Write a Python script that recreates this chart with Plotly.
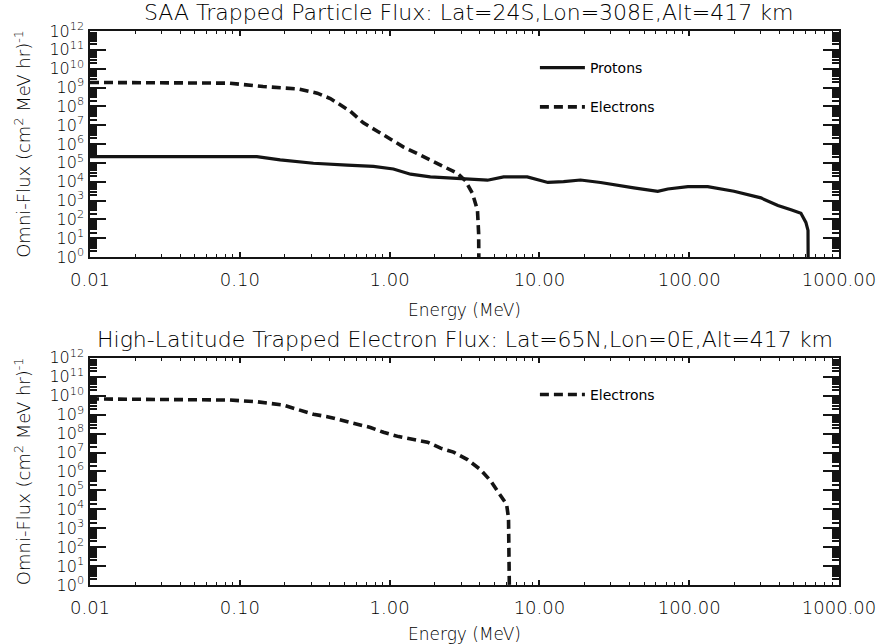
import plotly.graph_objects as go

# ---------------- data ----------------
saa_proton_energy = [0.01, 0.13, 0.186, 0.31, 0.52, 0.78, 1.06, 1.38, 1.87, 3.11, 4.5, 5.77,
                     8.3, 11.4, 14.5, 18.8, 25.6, 42.7, 61.7, 72, 98, 133, 199, 301, 391,
                     478, 557, 601, 621, 623]
saa_proton_flux = [2.14e5, 2.14e5, 1.45e5, 9.5e4, 7.6e4, 6.5e4, 4.7e4, 2.5e4, 1.8e4, 1.38e4,
                   1.2e4, 1.8e4, 1.8e4, 9.1e3, 1.0e4, 1.23e4, 9.1e3, 4.7e3, 3.1e3, 4.1e3,
                   5.5e3, 5.5e3, 3.1e3, 1.38e3, 550, 320, 210, 69, 26, 0.1]

saa_electron_energy = [0.01, 0.086, 0.143, 0.242, 0.329, 0.402, 0.547, 0.668, 0.828, 1.01,
                       1.24, 1.53, 1.87, 2.29, 2.84, 3.21, 3.58, 3.86, 3.93, 3.95]
saa_electron_flux = [1.86e9, 1.7e9, 1.12e9, 8.5e8, 5.0e8, 2.6e8, 5.5e7, 1.32e7, 4.8e6, 1.8e6,
                     6.9e5, 3.1e5, 1.38e5, 6.2e4, 2.75e4, 1.12e4, 2.3e3, 300, 18, 0.1]

hl_electron_energy = [0.01, 0.086, 0.13, 0.16, 0.195, 0.242, 0.31, 0.384, 0.483, 0.59, 0.745,
                      0.91, 1.15, 1.42, 1.79, 2.19, 2.67, 3.31, 4.05, 4.72, 5.33, 6.04, 6.22,
                      6.25, 6.32]
hl_electron_flux = [6.8e9, 5.9e9, 4.8e9, 3.9e9, 3.2e9, 1.9e9, 1.05e9, 7.8e8, 4.8e8, 3.2e8,
                    2.1e8, 1.17e8, 6.9e7, 5.0e7, 3.5e7, 1.7e7, 1.05e7, 4.2e6, 1.23e6, 3.2e5,
                    8.1e4, 1.8e4, 3.5e3, 91, 0.1]

x_tick_values = [0.01, 0.1, 1, 10, 100, 1000]
x_tick_labels = ["0.01", "0.10", "1.00", "10.00", "100.00", "1000.00"]
y_exponents = list(range(0, 13))

title_top = "SAA Trapped Particle Flux: Lat=24S,Lon=308E,Alt=417 km"
title_bottom = "High-Latitude Trapped Electron Flux: Lat=65N,Lon=0E,Alt=417 km"
x_title = "Energy (MeV)"
y_title = "Omni-Flux (cm<sup>2</sup> MeV hr)<sup>-1</sup>"

# ---------------- styling ----------------
INK = "#000000"
LINE = "#141414"
FONT = "DejaVu Sans"

y_tick_values = [10 ** e for e in y_exponents]
y_tick_labels = ["10<sup>%d</sup>" % e for e in y_exponents]
y_minor = [k * 10 ** e for e in y_exponents[:-1] for k in range(2, 10)]
x_minor = [k * 10 ** e for e in range(-2, 3) for k in range(2, 10)]

fig = go.Figure()

fig.add_trace(go.Scatter(x=saa_proton_energy, y=saa_proton_flux, mode="lines",
                         name="Protons", legendgroup="p", legend="legend",
                         line=dict(color=LINE, width=3.2), xaxis="x", yaxis="y"))
fig.add_trace(go.Scatter(x=saa_electron_energy, y=saa_electron_flux, mode="lines",
                         name="Electrons", legendgroup="e", legend="legend",
                         line=dict(color=LINE, width=3.6, dash="9px,5px"), xaxis="x", yaxis="y"))
fig.add_trace(go.Scatter(x=hl_electron_energy, y=hl_electron_flux, mode="lines",
                         name="Electrons", legend="legend2",
                         line=dict(color=LINE, width=3.6, dash="9px,5px"), xaxis="x2", yaxis="y2"))

def xaxis_cfg(anchor):
    return dict(
        type="log", range=[-2, 3], anchor=anchor,
        tickvals=x_tick_values, ticktext=x_tick_labels,
        ticks="inside", ticklen=5, tickwidth=1.5, tickcolor=LINE,
        minor=dict(tickvals=x_minor, ticks="inside", ticklen=3, tickwidth=1.2, tickcolor=LINE,
                   showgrid=False),
        showline=True, linecolor=LINE, linewidth=1.5, mirror="allticks",
        showgrid=False, zeroline=False,
        tickfont=dict(family=FONT, size=18, color=INK, weight=200),
        ticklabelstandoff=6,
        title=dict(text=x_title, font=dict(family=FONT, size=17, color=INK, weight=200),
                   standoff=15),
    )

def yaxis_cfg(domain, anchor):
    return dict(
        type="log", range=[0, 12], domain=domain, anchor=anchor,
        tickvals=y_tick_values, ticktext=y_tick_labels,
        ticks="inside", ticklen=16, tickwidth=1.8, tickcolor=LINE,
        minor=dict(tickvals=y_minor, ticks="inside", ticklen=7, tickwidth=1.5, tickcolor=LINE,
                   showgrid=False),
        showline=True, linecolor=LINE, linewidth=1.5, mirror="allticks",
        showgrid=False, zeroline=False,
        tickfont=dict(family=FONT, size=16, color=INK, weight=200),
        ticklabelstandoff=1,
        title=dict(text=y_title, font=dict(family=FONT, size=18, color=INK, weight=200),
                   standoff=14),
    )

fig.update_layout(
    width=881, height=644,
    margin=dict(l=90, r=42, t=31, b=59, autoexpand=False),
    paper_bgcolor="white", plot_bgcolor="white",
    showlegend=True,
    xaxis=xaxis_cfg("y"),
    yaxis=yaxis_cfg([0.592, 1.0], "x"),
    xaxis2=xaxis_cfg("y2"),
    yaxis2=yaxis_cfg([0.0, 0.41], "x2"),
    legend=dict(x=0.594, y=0.962, xanchor="left", yanchor="top",
                bgcolor="rgba(0,0,0,0)", borderwidth=0, itemwidth=45,
                traceorder="grouped", tracegroupgap=18,
                font=dict(family=FONT, size=14, color=INK)),
    legend2=dict(x=0.594, y=0.372, xanchor="left", yanchor="top",
                 bgcolor="rgba(0,0,0,0)", borderwidth=0, itemwidth=45,
                 font=dict(family=FONT, size=14, color=INK)),
    annotations=[
        dict(text=title_top, xref="paper", yref="paper", x=0.505, y=1.034,
             xanchor="center", yanchor="middle", showarrow=False,
             font=dict(family=FONT, size=22, color=INK, weight=200)),
        dict(text=title_bottom, xref="paper", yref="paper", x=0.50, y=0.443,
             xanchor="center", yanchor="middle", showarrow=False,
             font=dict(family=FONT, size=22, color=INK, weight=200)),
    ],
)

fig.write_html("out.html")
